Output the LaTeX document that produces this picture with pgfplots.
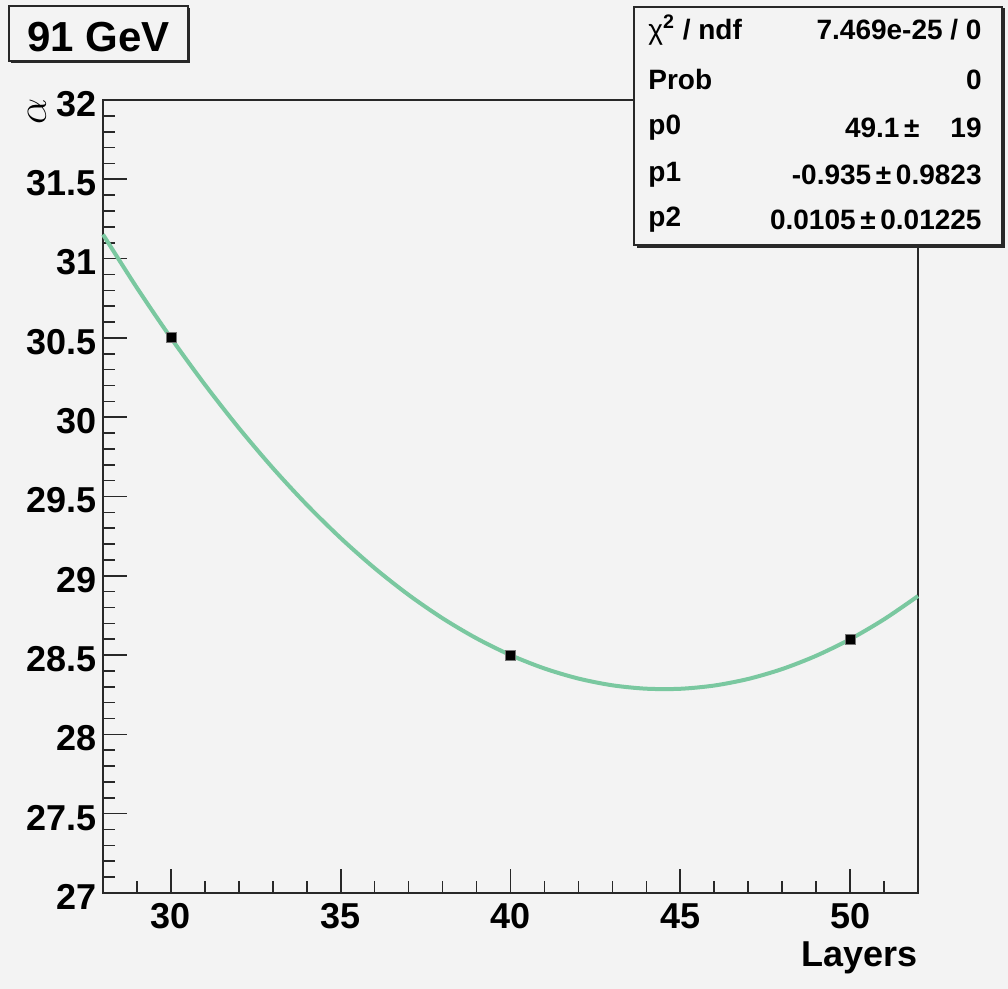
\documentclass[border=0pt]{standalone}
\usepackage{fontspec}
\setmainfont{Liberation Sans}
\usepackage{pgfplots}
\pgfplotsset{compat=1.18}
\definecolor{canvas}{RGB}{243,243,243}
\definecolor{axc}{RGB}{40,40,40}
\definecolor{fitc}{RGB}{122,200,160}
\begin{document}
\begin{tikzpicture}
% canvas, 1px = 0.5pt
\fill[canvas] (0,0) rectangle (504pt,494.5pt);
\begin{axis}[at={(51.5pt,48pt)},anchor=south west,scale only axis,
width=407.5pt,height=396.5pt,
xmin=28,xmax=52,ymin=27,ymax=32,
xtick={30,35,40,45,50},ytick={27,27.5,...,32},
minor xtick={29,...,51},minor ytick={27,27.1,...,32},
tick align=inside,xtick pos=left,ytick pos=left,
major tick length=12pt,minor tick length=6pt,
axis line style={draw=axc,line width=0.8pt},
every tick/.style={draw=axc,line width=0.8pt},
tick label style={font=\fontsize{18}{18}\selectfont\bfseries},
/pgf/number format/assume math mode=true,
/pgf/number format/fixed,/pgf/number format/precision=1,
yticklabel style={inner sep=0pt,xshift=-3pt,yshift=-2pt},
xticklabel style={inner sep=0pt,yshift=-5pt},
clip=false]
\addplot[fitc,line width=2pt,smooth] coordinates {
(28,31.152) (29,30.8155) (30,30.5) (31,30.2055) (32,29.932) (33,29.6795)
(34,29.448) (35,29.2375) (36,29.048) (37,28.8795) (38,28.732) (39,28.6055)
(40,28.5) (41,28.4155) (42,28.352) (43,28.3095) (44,28.288) (45,28.2875)
(46,28.308) (47,28.3495) (48,28.412) (49,28.4955) (50,28.6) (51,28.7255)
(52,28.872)};
\addplot[only marks,mark=square*,mark size=2.5pt,
mark options={fill=black,draw=black!55,line width=0.4pt}] coordinates {
(30,30.5) (40,28.5) (50,28.6)};
\end{axis}
% axis titles
\node[anchor=base east,inner sep=0pt,font=\fontsize{18}{18}\selectfont\bfseries] at (459pt,11pt) {Layers};
\node[rotate=90,inner sep=0pt,font=\fontsize{22}{22}\selectfont] at (18.5pt,439pt) {$\alpha$};
% title box
\fill[axc] (5.5pt,463pt) rectangle (95pt,490.5pt);
\filldraw[fill=canvas,draw=axc,line width=0.6pt] (4.5pt,464pt) rectangle (94pt,491.5pt);
\node[inner sep=0pt,font=\fontsize{21}{21}\selectfont\bfseries] at (49.25pt,476pt) {91 GeV};
% stats box
\fill[axc] (318.5pt,370.5pt) rectangle (502.5pt,490.5pt);
\filldraw[fill=canvas,draw=axc,line width=0.6pt] (317pt,372pt) rectangle (501pt,491pt);
\begin{scope}[every node/.style={inner sep=0pt,font=\fontsize{14}{14}\selectfont\bfseries}]
\node[anchor=west] at (324pt,479.5pt) {{\mdseries χ}\textsuperscript{2} / ndf};
\node[anchor=east] at (491pt,479.5pt) {7.469e-25 / 0};
\node[anchor=west] at (324pt,454.5pt) {Prob};
\node[anchor=east] at (491pt,454.5pt) {0};
\node[anchor=west] at (324pt,430.5pt) {p0};
\node[anchor=east] at (460pt,430.5pt) {49.1\,±};
\node[anchor=east] at (491pt,430.5pt) {19};
\node[anchor=west] at (324pt,407pt) {p1};
\node[anchor=east] at (491pt,407pt) {-0.935\,±\,0.9823};
\node[anchor=west] at (324pt,384.5pt) {p2};
\node[anchor=east] at (491pt,384.5pt) {0.0105\,±\,0.01225};
\end{scope}
\end{tikzpicture}
\end{document}
